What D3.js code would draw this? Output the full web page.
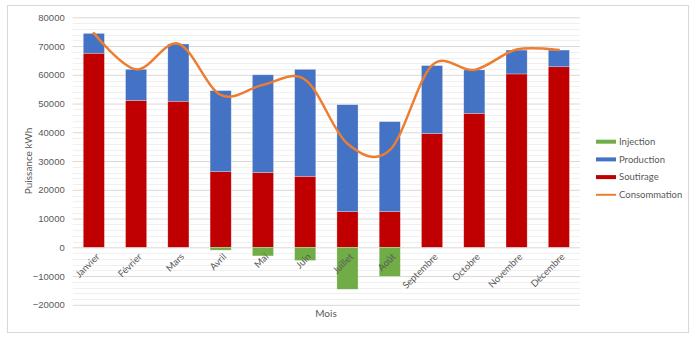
<!DOCTYPE html>
<html><head><meta charset="utf-8">
<script src="https://cdn.jsdelivr.net/npm/d3@7"></script>
<style>
html,body{margin:0;padding:0;background:#fff;}
svg{display:block;font-family:Lato,"Open Sans",sans-serif;}
</style></head>
<body><svg id="c" width="700" height="343"></svg>
<script>
const months = ["Janvier","Février","Mars","Avril","Mai","Juin","Juillet","Août","Septembre","Octobre","Novembre","Décembre"];
const soutirage = [67500,51100,50800,26300,26000,24700,12400,12400,39600,46600,60300,62800];
const production = [6900,10800,19900,28200,34000,37200,37200,31300,23600,15100,8300,5800];
const injection = [0,0,0,-1000,-3000,-4600,-14600,-10100,0,0,0,0];
const consommation = [74500,61900,70800,53000,56500,58300,36000,33800,63300,61700,68800,68600];
const yTicks = [-20000,-10000,0,10000,20000,30000,40000,50000,60000,70000,80000];
const seriesNames = ["Injection","Production","Soutirage","Consommation"];
const colors = {Injection:"#70AD47",Production:"#4472C4",Soutirage:"#C00000",Consommation:"#ED7D31"};

const svg = d3.select("#c");
svg.append("rect").attr("x",7.5).attr("y",5.5).attr("width",681).attr("height",327)
  .attr("fill","#fff").attr("stroke","#d9d9d9").attr("stroke-width",1);

const x = d3.scaleBand().domain(months).range([72.7,580]).paddingInner(0.5).paddingOuter(0.25);
const y = d3.scaleLinear().domain([-20000,80000]).range([304.8,17.3]);

// minor gridlines
const minor = d3.range(-20000,80001,2000).filter(v=>v%10000!==0);
svg.append("g").selectAll("line").data(minor).join("line")
  .attr("x1",72.7).attr("x2",580).attr("y1",d=>Math.round(y(d))+0.5).attr("y2",d=>Math.round(y(d))+0.5)
  .attr("stroke","#f0f0f0").attr("stroke-width",1);
// major gridlines via axis
const yAxis = svg.append("g").attr("transform","translate(72.7,0)")
  .call(d3.axisLeft(y).tickValues(yTicks).tickSize(-(580-72.7)).tickFormat(d3.format("d")).tickPadding(8));
yAxis.select(".domain").remove();
yAxis.selectAll(".tick line").attr("stroke","#d9d9d9");
yAxis.selectAll(".tick text").attr("fill","#595959").style("font-size","9.5px");

// stacked bars
const table = months.map((m,i)=>({month:m,Injection:injection[i],Production:production[i],Soutirage:soutirage[i]}));
const stack = d3.stack().keys(["Soutirage","Production","Injection"]).offset(d3.stackOffsetDiverging);
const stacked = stack(table);
svg.append("g").selectAll("g").data(stacked).join("g").attr("fill",d=>colors[d.key])
  .selectAll("rect").data(d=>d).join("rect")
  .attr("x",d=>x(d.data.month)).attr("width",x.bandwidth())
  .attr("y",d=>y(Math.max(d[0],d[1]))).attr("height",d=>Math.abs(y(d[0])-y(d[1])))
  .attr("stroke","rgba(255,255,255,0.45)").attr("stroke-width",0.6);

// line
const line = d3.line().x((d,i)=>x(months[i])+x.bandwidth()/2).y(d=>y(d)).curve(d3.curveCatmullRom.alpha(0));
svg.append("path").datum(consommation).attr("d",line).attr("fill","none")
  .attr("stroke",colors.Consommation).attr("stroke-width",2.5).attr("stroke-linecap","round");

// x labels
svg.append("g").selectAll("text").data(months).join("text")
  .attr("transform",d=>`translate(${x(d)+x.bandwidth()/2+4},${255}) rotate(-45)`)
  .attr("text-anchor","end").attr("dy","0.35em").attr("fill","#595959").style("font-size","9.5px").text(d=>d);

// axis titles
svg.append("text").attr("transform","translate(32,161) rotate(-90)").attr("text-anchor","middle")
  .attr("fill","#595959").style("font-size","10px").text("Puissance kWh");
svg.append("text").attr("x",326).attr("y",317).attr("text-anchor","middle")
  .attr("fill","#595959").style("font-size","10px").text("Mois");

// legend
const lg = svg.append("g").selectAll("g").data(seriesNames).join("g")
  .attr("transform",(d,i)=>`translate(596,${141.7+i*17.7})`);
lg.append("rect").attr("x",0).attr("width",20).attr("y",d=>d==="Consommation"?-1:-2).attr("height",d=>d==="Consommation"?2:4)
  .attr("fill",d=>colors[d]);
lg.append("text").attr("x",23).attr("dy","0.35em").attr("fill","#595959").style("font-size","9.5px").text(d=>d);
</script></body></html>
